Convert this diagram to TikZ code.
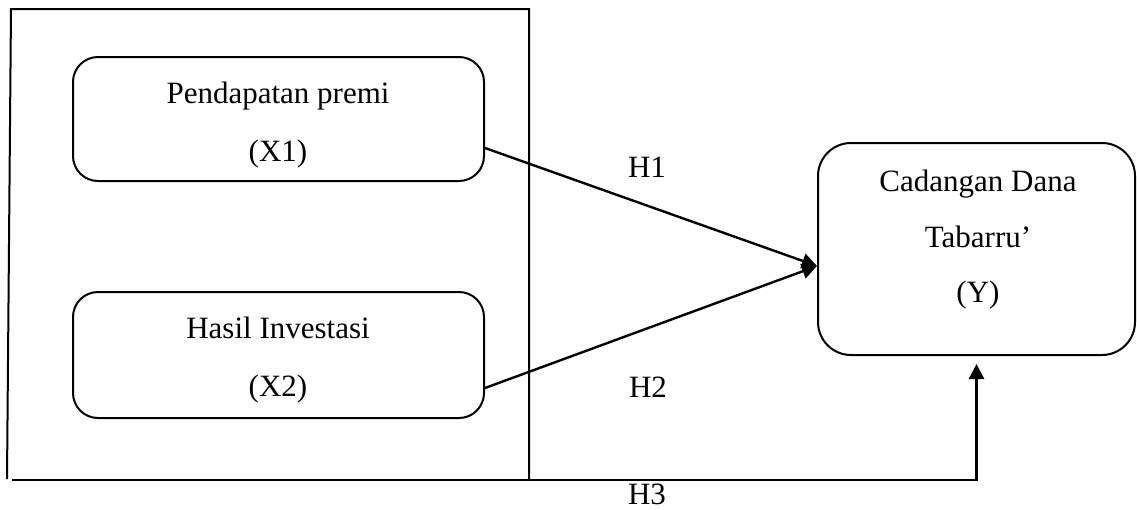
\documentclass[tikz,border=0pt]{standalone}
\usepackage{fontspec}
\setmainfont{Liberation Serif}
\usetikzlibrary{arrows.meta,calc}
\tikzset{
  rbox/.style={draw, line width=2pt, rounded corners=25pt, inner sep=0pt},
  txt/.style={align=center, inner sep=0pt},
  lab/.style={inner sep=0pt, font=\fontsize{31}{37}\selectfont},
  arr/.style={line width=2.4pt, -{Triangle[length=15pt,width=15pt]}},
  frame/.style={line width=2pt}
}
\begin{document}
\begin{tikzpicture}[x=1pt,y=-1pt]
\useasboundingbox (0,0) rectangle (1137,509);
% frame
\draw[frame] (7,479) -- (11,9) -- (529,9) -- (529,480);
% boxes
\node[rbox, minimum width=411pt, minimum height=124pt] (X1) at (278.5,119) {};
\node[rbox, minimum width=411pt, minimum height=126pt] (X2) at (278.5,355) {};
\node[rbox, rounded corners=33pt, minimum width=317pt, minimum height=212pt] (Y) at (976.5,249) {};
% texts
\node[txt, font=\fontsize{31}{58.4}\selectfont] (X1t) at (278,125) {Pendapatan premi\\(X1)};
\node[txt, font=\fontsize{31}{58.4}\selectfont] (X2t) at (278,360) {Hasil Investasi\\(X2)};
\node[txt, font=\fontsize{31}{55.5}\selectfont] (Yt) at (978,240) {Cadangan Dana\\Tabarru’\\(Y)};
% connectors
\draw[arr] ([yshift=-29pt]X1.east) -- ([yshift=-17pt]Y.west);
\draw[arr] ([yshift=-33pt]X2.east) -- ([yshift=-17pt]Y.west);
\coordinate (h3s) at (12,480);
\draw[arr] (h3s) -| ([yshift=-8pt]Y.south);
% labels
\node[lab] (H1) at (647,167.5) {H1};
\node[lab] (H2) at (648,387.5) {H2};
\node[lab] (H3) at (647,494) {H3};
\end{tikzpicture}
\end{document}
